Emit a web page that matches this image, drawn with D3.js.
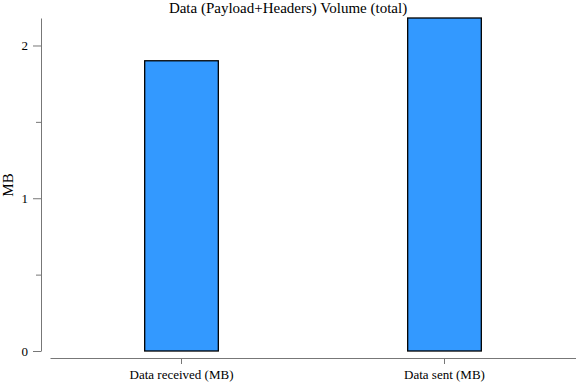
<!DOCTYPE html>
<html>
<head>
<meta charset="utf-8">
<script src="https://cdn.jsdelivr.net/npm/d3@7"></script>
<style>
  body { margin: 0; background: #fff; }
  svg text { font-family: "Liberation Serif", "Times New Roman", serif !important; }
</style>
</head>
<body>
<div id="chart"></div>
<script>
const categories = ["Data received (MB)", "Data sent (MB)"];
const values = [1.9, 2.18];
const yTicks = [0, 1, 2];
const yMinorTicks = [0.5, 1.5];

const width = 576, height = 384;
const serif = "'Liberation Serif', 'Times New Roman', serif";

const svg = d3.select("#chart")
  .append("svg")
  .attr("width", width)
  .attr("height", height)
  .attr("font-family", serif);

// scales
const x = d3.scaleBand()
  .domain(categories)
  .range([50, 576])
  .paddingInner(0)
  .paddingOuter(0);

const y = d3.scaleLinear()
  .domain([0, d3.max(values)])
  .range([351, 18]);

const barW = x.bandwidth() * 0.28;

// bars
svg.append("g")
  .selectAll("rect")
  .data(values)
  .join("rect")
  .attr("x", (d, i) => x(categories[i]) + x.bandwidth() / 2 - barW / 2)
  .attr("y", d => y(d))
  .attr("width", barW)
  .attr("height", d => y(0) - y(d))
  .attr("fill", "#3399ff")
  .attr("stroke", "#000")
  .attr("stroke-width", 1.3);

// y axis
svg.append("g")
  .attr("transform", "translate(41,0)")
  .call(d3.axisLeft(y).tickValues(yTicks).tickFormat(d3.format("d")).tickSize(8).tickPadding(5).tickSizeOuter(0));
svg.append("g")
  .attr("transform", "translate(41,0)")
  .call(d3.axisLeft(y).tickValues(yMinorTicks).tickFormat("").tickSize(5).tickSizeOuter(0))
  .select(".domain").remove();

// x axis
svg.append("g")
  .attr("transform", "translate(0,358)")
  .call(d3.axisBottom(x).tickSize(6).tickPadding(6).tickSizeOuter(0));

svg.selectAll("g").attr("font-family", serif);
svg.selectAll(".domain, .tick line").attr("stroke", "#777");
svg.selectAll(".tick text").attr("font-size", 13).attr("fill", "#000");

// y label
svg.append("text")
  .attr("transform", "translate(13,185) rotate(-90)")
  .attr("text-anchor", "middle")
  .attr("font-size", 15)
  .text("MB");

// title
svg.append("text")
  .attr("x", 288)
  .attr("y", 13)
  .attr("text-anchor", "middle")
  .attr("font-size", 15)
  .text("Data (Payload+Headers) Volume (total)");
</script>
</body>
</html>
